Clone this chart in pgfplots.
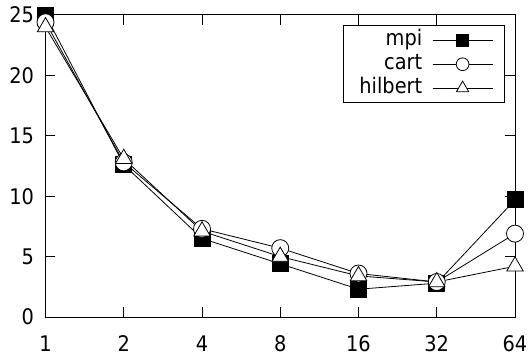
\documentclass[border=0pt]{standalone}
\usepackage{pgfplots}
\pgfplotsset{compat=1.18}
\usepackage{fontspec}
\setmainfont{DejaVu Sans Condensed}
\begin{document}
\begin{tikzpicture}
\begin{axis}[
  name=ax,
  scale only axis,
  width=469.5bp, height=302bp,
  xmin=0, xmax=6, ymin=0, ymax=25,
  xtick={0,1,2,3,4,5,6},
  xticklabels={1,2,4,8,16,32,64},
  ytick={0,5,10,15,20,25},
  /pgf/number format/assume math mode=true,
  tick label style={font=\fontsize{21.5bp}{25bp}\selectfont},
  major tick length=10bp,
  tick style={black, line width=1bp},
  axis line style={line width=1bp},
  xticklabel style={yshift=-15bp},
  yticklabel style={xshift=-8bp},
  clip=false,
  legend plot pos=right,
  legend cell align=right,
  legend style={
    at={(1,1)}, anchor=north east, xshift=-10.5bp, yshift=-10bp,
    draw=black, line width=1bp,
    font=\fontsize{21.5bp}{25bp}\selectfont,
    inner xsep=11bp, inner ysep=2.75bp,
    row sep=0bp, column sep=10bp,
    nodes={inner xsep=0bp, inner ysep=2.5bp, text height=15bp, text depth=4bp},
  },
  legend image code/.code={%
    \draw[#1,mark repeat=2,mark phase=2,every mark/.append style={scale=0.75}] plot coordinates {(0bp,0bp) (30bp,0bp) (60bp,0bp)};},
]
\addplot[black, line width=0.8bp, mark=square*, mark size=8bp, mark options={fill=black, solid}]
  coordinates {(0,25.0) (1,12.6) (2,6.5) (3,4.4) (4,2.3) (5,2.8) (6,9.7)};
\addlegendentry{mpi}
\addplot[black, line width=0.8bp, mark=*, mark size=8.5bp, mark options={fill=white, solid}]
  coordinates {(0,24.4) (1,12.8) (2,7.3) (3,5.7) (4,3.6) (5,2.9) (6,6.9)};
\addlegendentry{cart}
\addplot[black, line width=0.8bp, mark=triangle*, mark size=9.5bp, mark options={fill=white, solid}]
  coordinates {(0,24.0) (1,13.1) (2,7.1) (3,5.0) (4,3.4) (5,2.9) (6,4.2)};
\addlegendentry{\hspace*{5bp}hilbert}
\end{axis}
\pgfresetboundingbox
\path[use as bounding box] ([xshift=-45.5bp,yshift=-44bp]ax.south west) rectangle ([xshift=13bp,yshift=15bp]ax.north east);
\end{tikzpicture}
\end{document}
